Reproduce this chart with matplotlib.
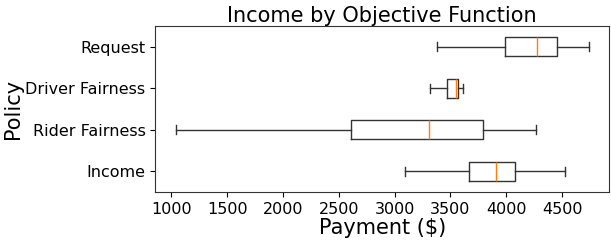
import matplotlib
matplotlib.use("Agg")
import matplotlib.pyplot as plt

policies = ["Income", "Rider Fairness", "Driver Fairness", "Request"]
whislo = [3090, 1041, 3314, 3376]
q1 = [3666, 2612, 3468, 3987]
med = [3905, 3311, 3548, 4277]
q3 = [4082, 3790, 3571, 4457]
whishi = [4525, 4265, 3610, 4737]

stats = []
for i in range(len(policies)):
    stats.append({"label": policies[i], "whislo": whislo[i], "q1": q1[i],
                  "med": med[i], "q3": q3[i], "whishi": whishi[i], "fliers": []})

fig = plt.figure(figsize=(6.11, 2.41), dpi=100)
ax = fig.add_axes([0.254, 0.203, 0.743, 0.689])
ax.bxp(stats, vert=False, showfliers=False,
       boxprops=dict(color="#333333"), whiskerprops=dict(color="#333333"),
       capprops=dict(color="#333333"))
ax.set_title("Income by Objective Function", fontsize=15, pad=3)
ax.set_xlabel("Payment ($)", fontsize=15, labelpad=1)
ax.set_ylabel("Policy", fontsize=15, labelpad=2)
ax.tick_params(labelsize=11.5)
for s in ax.spines.values():
    s.set_color("#333333")
fig.savefig("out.png", dpi=100)
